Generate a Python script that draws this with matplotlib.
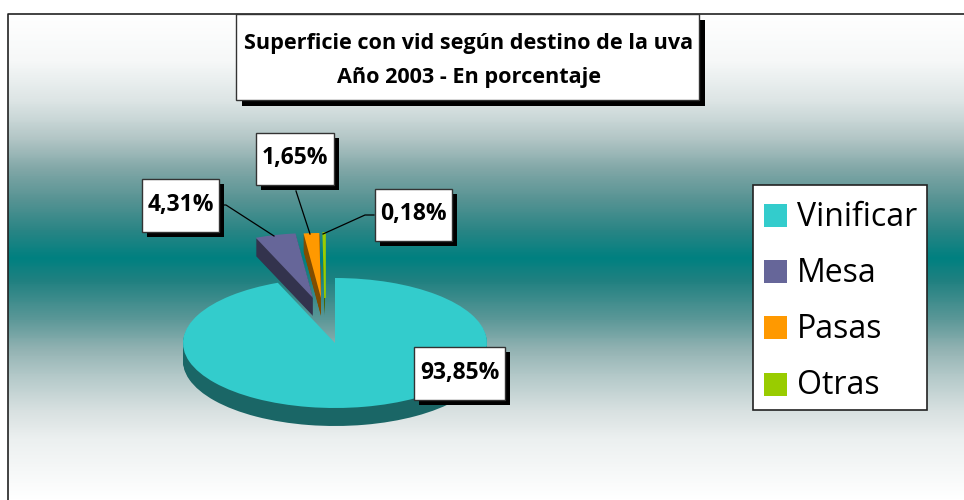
import matplotlib
matplotlib.use('Agg')
import matplotlib.pyplot as plt
import numpy as np
from matplotlib.colors import LinearSegmentedColormap
from matplotlib.patches import Rectangle, Wedge

# Data
categories = ['Vinificar', 'Mesa', 'Pasas', 'Otras']
values = [93.85, 4.31, 1.65, 0.18]
value_labels = ['93,85%', '4,31%', '1,65%', '0,18%']
colors = ['#33CCCC', '#666699', '#FF9900', '#99CC00']
side_colors = ['#1A6666', '#33334D', '#804D00', '#4D6600']
title_lines = ['Superficie con vid según destino de la uva', 'Año 2003 - En porcentaje']

# Background gradient, pixel row and colour
grad_rows = [14, 60, 100, 120, 140, 170, 200, 230, 258, 280, 320, 350, 375, 410, 440, 500]
grad_colors = ['#ffffff', '#f6f8f8', '#dde5e5', '#c8d6d6', '#b0c4c4', '#7fa6a6', '#569393', '#2a8585',
               '#008080', '#1f8080', '#5c9898', '#93b3b3', '#b2c8c8', '#d7e0e0', '#ecf0f0', '#ffffff']

W, H = 964, 500
FONT = 'Open Sans'

fig = plt.figure(figsize=(W / 100, H / 100), dpi=100, facecolor='white')

# overlay in pixel coordinates, y going down
ax = fig.add_axes([0, 0, 1, 1], zorder=0)
ax.set_xlim(0, W)
ax.set_ylim(H, 0)
ax.axis('off')

stops = [(r - grad_rows[0]) / (grad_rows[-1] - grad_rows[0]) for r in grad_rows]
cmap = LinearSegmentedColormap.from_list('bg', list(zip(stops, grad_colors)), N=512)
ax.imshow(np.linspace(0, 1, 486).reshape(-1, 1), cmap=cmap, aspect='auto',
          extent=(8, W, 500, 14), zorder=0)
ax.set_xlim(0, W)
ax.set_ylim(H, 0)
ax.plot([8, 8, W], [H, 14, 14], color='#222222', lw=1.2, zorder=1)

# Pie, squashed by using a flat axes
cx, cy, rx, ry = 335, 343, 152, 65
depth = 18
pie_ax = fig.add_axes([(cx - 2 * rx) / W, 1 - (cy + 2 * ry) / H, 4 * rx / W, 4 * ry / H], zorder=2)
wedges, _ = pie_ax.pie(values, colors=colors, startangle=90, counterclock=False, radius=1)
pie_ax.set_aspect('auto')
pie_ax.set_xlim(-2, 2)
pie_ax.set_ylim(-2, 2)

# how far the small slices are pulled out, in pie units
offsets = [(0, 0), (-22 / rx, 45 / ry), (-14 / rx, 45 / ry), (-10 / rx, 45 / ry)]
for i, w in enumerate(wedges):
    x0, y0 = offsets[i]
    w.set_center((x0, y0))
    w.set_zorder(30 + i)
    w.set_linewidth(0)
    # side of the slice is a stack of dark copies
    for d in np.arange(depth, 0, -1):
        pie_ax.add_patch(Wedge((x0, y0 - d / ry), 1, w.theta1, w.theta2, facecolor=side_colors[i],
                               linewidth=0, zorder=10 + i))
# the thinnest slice would vanish otherwise
wedges[3].set_edgecolor(colors[3])
wedges[3].set_linewidth(1.2)

# Leader lines
leaders = [([219, 226, 274], [205, 205, 236]),
           ([296, 310], [191, 234]),
           ([374, 365, 323], [215, 215, 234])]
over = fig.add_axes([0, 0, 1, 1], zorder=3)
over.set_xlim(0, W)
over.set_ylim(H, 0)
over.axis('off')
over.patch.set_alpha(0)
for xs, ys in leaders:
    over.plot(xs, ys, color='black', lw=0.9, zorder=2)


def shadow_box(x0, y0, x1, y1, shift=6):
    over.add_patch(Rectangle((x0 + shift, y0 + shift), x1 - x0, y1 - y0, facecolor='black', lw=0, zorder=3))
    over.add_patch(Rectangle((x0, y0), x1 - x0, y1 - y0, facecolor='white', edgecolor='#333333', lw=1, zorder=4))


# Title
shadow_box(236, 14, 699, 100)
over.text(469, 43, title_lines[0], ha='center', va='center', fontsize=15.6, fontweight='bold', family=FONT, zorder=5)
over.text(469, 78, title_lines[1], ha='center', va='center', fontsize=15.6, fontweight='bold', family=FONT, zorder=5)

# Data labels
boxes = [(414, 347, 505, 400), (142, 179, 219, 232), (256, 133, 334, 185), (375, 189, 452, 241)]
for (x0, y0, x1, y1), lab in zip(boxes, value_labels):
    shadow_box(x0, y0, x1, y1, shift=5)
    over.text((x0 + x1) / 2, (y0 + y1) / 2 - 1, lab, ha='center', va='center', fontsize=16.5, fontweight='bold',
              family=FONT, zorder=5)

# Legend
over.add_patch(Rectangle((753, 185), 174, 225, facecolor='white', edgecolor='#222222', lw=1.2, zorder=4))
swatch_tops = [204, 260, 316, 373]
for top, name, col in zip(swatch_tops, categories, colors):
    over.add_patch(Rectangle((764, top), 23, 23, facecolor=col, lw=0, zorder=5))
    over.text(797, top + 13, name, ha='left', va='center', fontsize=23, family=FONT, zorder=5)

fig.savefig('out.png', dpi=100)
